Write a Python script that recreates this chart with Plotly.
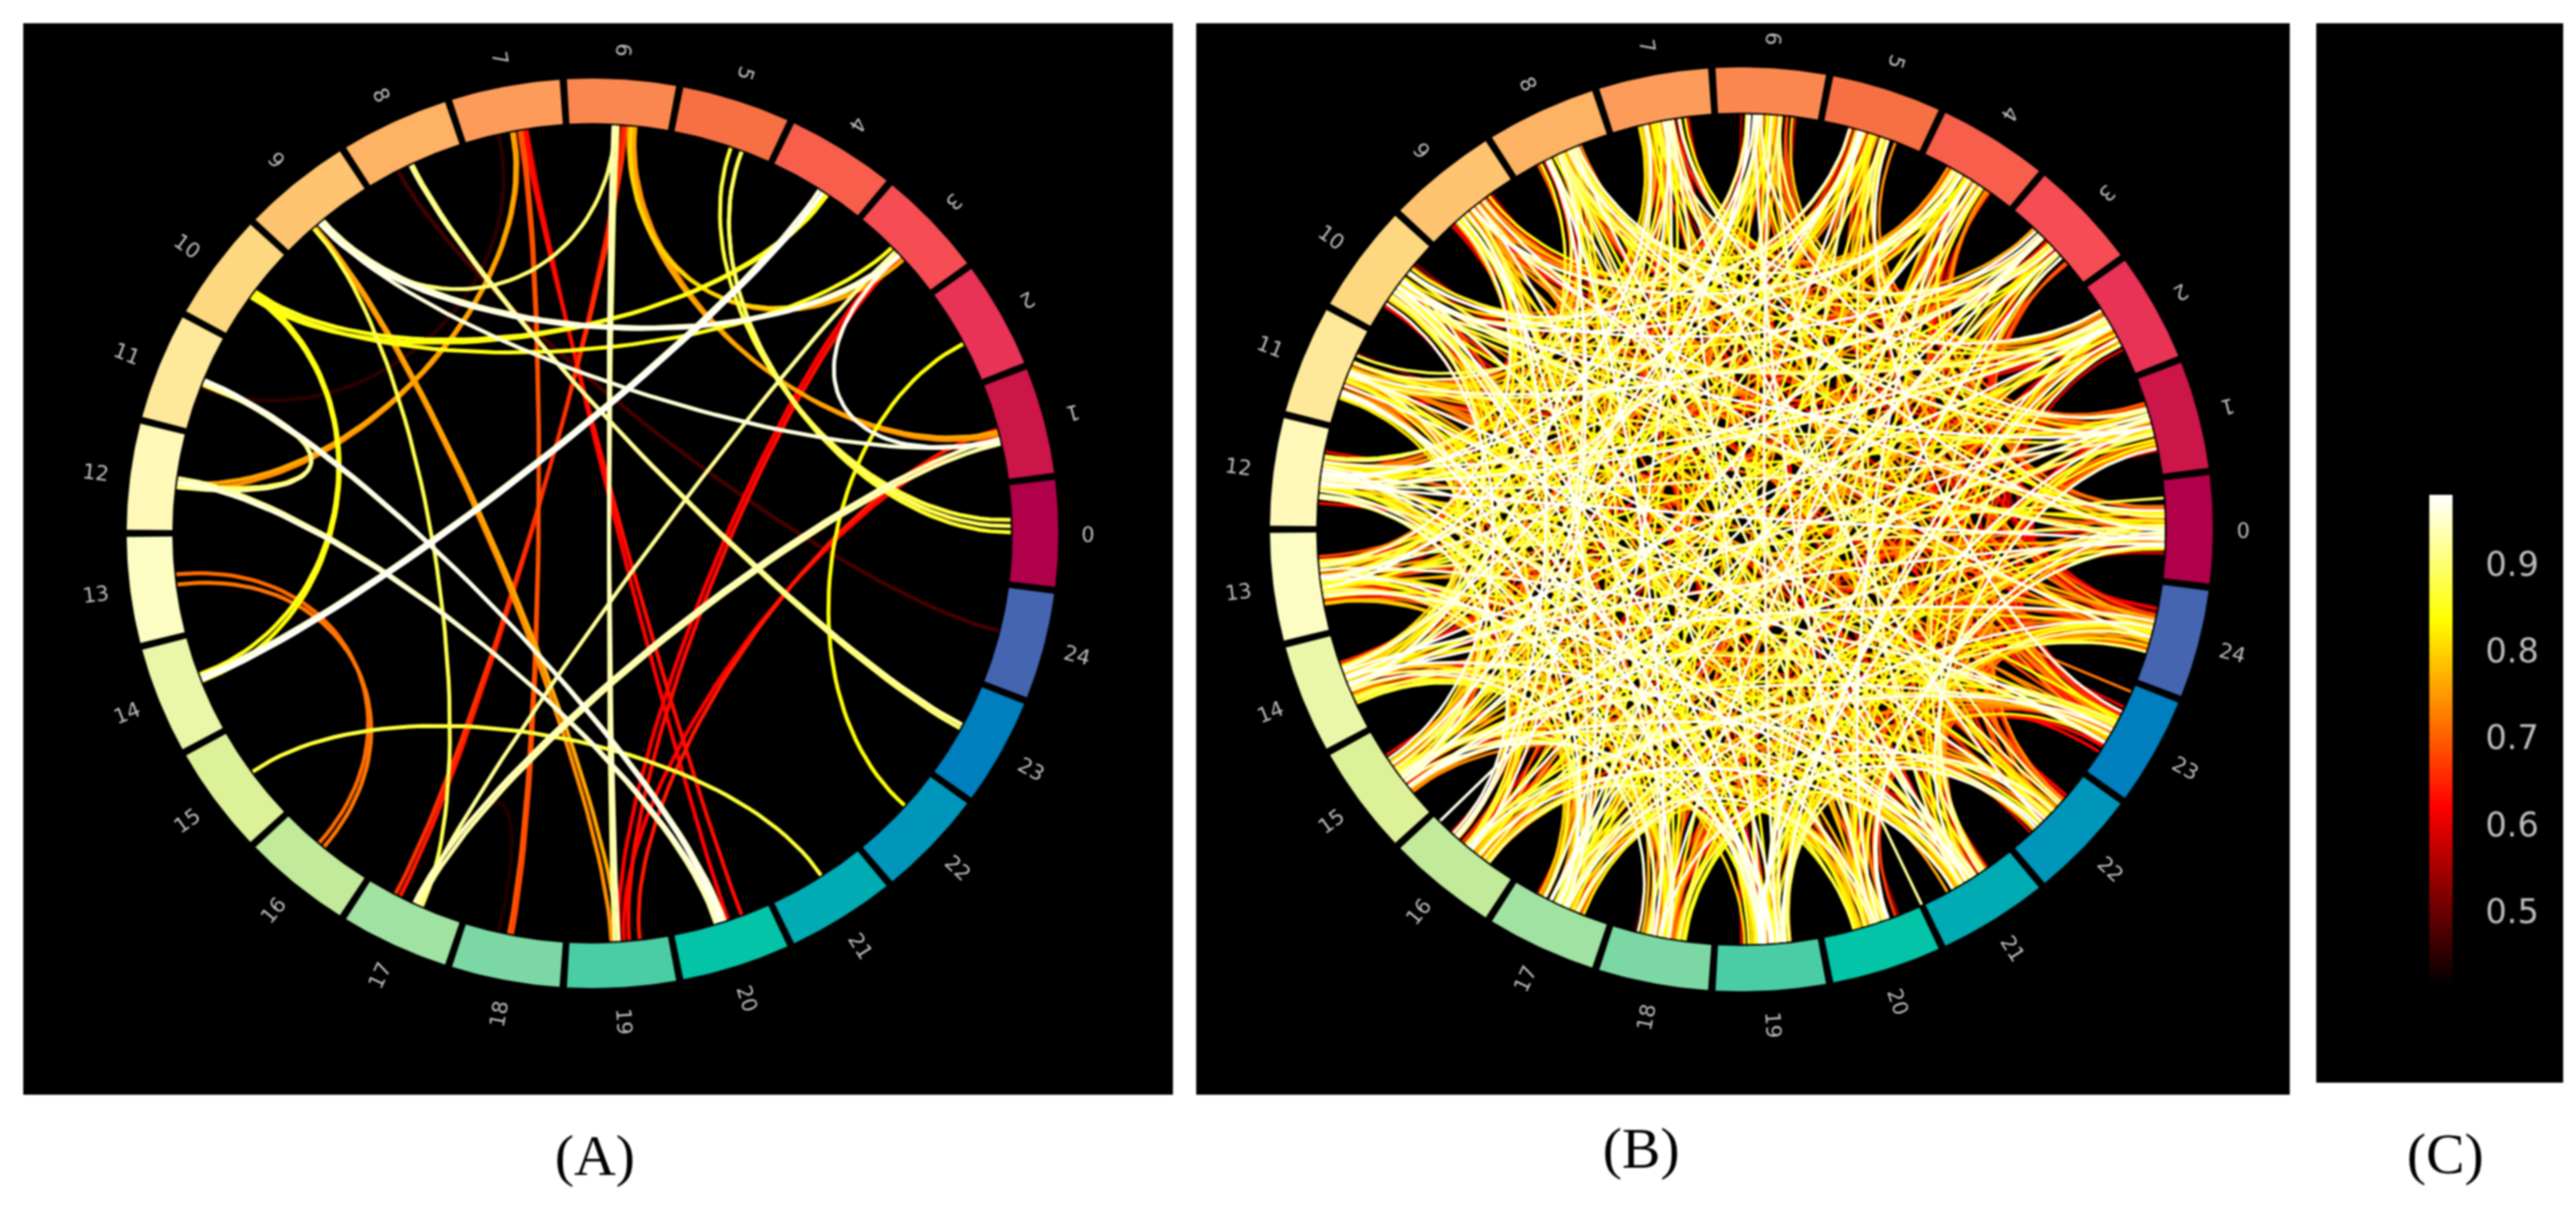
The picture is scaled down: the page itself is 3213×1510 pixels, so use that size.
#!/usr/bin/env python
import numpy as np
import plotly.graph_objects as go
from plotly.colors import sample_colorscale

WIDTH = 3213
HEIGHT = 1510

NODE_NAMES = [str(i) for i in range(25)]
NODE_COLORS = [
    "#B0004A", "#CC1549", "#E83256", "#F54D53", "#F75F4C", "#F77043", "#FB8750", "#FD9C5A", "#FEB264",
    "#FEC470", "#FED880", "#FEE99A", "#FFF8B8", "#FCFDC3", "#EBF7A8", "#DDF298", "#C1EA9A", "#A0E2A2",
    "#7BD8A4", "#4ACDA5", "#03C4A7", "#00ABB4", "#0096BC", "#007FBE", "#4565B1",
]

# colour range
CMIN = 0.414
CMAX = 0.98
COLORBAR_TICKS = [0.5, 0.6, 0.7, 0.8, 0.9]
HOT_SCALE = [[0, "rgb(0,0,0)"], [0.365, "rgb(255,0,0)"], [0.746, "rgb(255,255,0)"], [1, "rgb(255,255,255)"]]

# panel A: one strand per row, (position on ring in node units, position on ring, value)
CHORDS_A = [
    (0.13, 4.91, 0.87), (0.07, 4.80, 0.89), (0.01, 4.80, 0.86),
    (0.92, 2.98, 0.97), (1.00, 5.90, 0.76), (0.97, 5.84, 0.74),
    (0.90, 9.07, 0.96), (2.99, 9.03, 0.95), (2.97, 9.08, 0.97),
    (0.93, 17.00, 0.94), (0.88, 17.05, 0.93), (1.02, 19.20, 0.64), (0.95, 19.05, 0.62),
    (3.00, 19.00, 0.62), (2.95, 19.10, 0.63), (3.03, 17.03, 0.92), (1.92, 22.10, 0.84),
    (23.06, 8.04, 0.92), (23.02, 8.02, 0.90), (24.04, 8.17, 0.47), (21.05, 14.98, 0.87),
    (12.90, 15.92, 0.71), (13.00, 15.98, 0.72), (13.96, 3.93, 0.98), (13.92, 3.97, 0.96),
    (13.97, 10.00, 0.84), (13.90, 10.03, 0.85), (9.98, 3.88, 0.85), (10.05, 3.90, 0.84),
    (10.02, 3.08, 0.85), (5.85, 2.92, 0.76), (5.88, 2.97, 0.80), (6.03, 9.05, 0.90),
    (7.02, 12.00, 0.76), (7.00, 12.05, 0.74), (6.95, 17.98, 0.68), (6.93, 17.95, 0.69),
    (6.88, 20.06, 0.62), (6.91, 20.20, 0.63), (5.96, 16.85, 0.64), (5.93, 16.80, 0.66),
    (6.05, 19.00, 0.94), (6.01, 18.96, 0.92), (9.13, 19.00, 0.76), (9.15, 18.93, 0.74),
    (9.15, 17.08, 0.88), (11.00, 20.03, 0.95), (10.97, 20.00, 0.97), (12.00, 19.97, 0.96),
    (11.96, 19.94, 0.93), (11.02, 12.02, 0.88), (11.00, 12.05, 0.92), (11.05, 7.15, 0.45),
    (17.05, 17.85, 0.44),
]

# panel B: strongest strand for node i to nodes i+1 ... 24, in hundredths, estimated
ROWS_B_STRONG = [
    [55, 62, 70, 85, 92, 68, 97, 88, 75, 95, 83, 98, 90, 72, 96, 86, 93, 66, 88, 97, 78, 65, 58, 60],
    [52, 66, 78, 73, 96, 85, 91, 64, 98, 87, 94, 76, 97, 89, 62, 93, 84, 98, 70, 86, 74, 63, 61],
    [58, 60, 82, 90, 74, 97, 86, 93, 68, 96, 85, 98, 79, 91, 88, 65, 97, 83, 94, 72, 64, 56],
    [54, 63, 79, 95, 87, 72, 98, 91, 84, 96, 67, 93, 97, 76, 89, 98, 82, 90, 70, 66, 60],
    [51, 68, 75, 92, 84, 97, 78, 94, 88, 63, 98, 86, 95, 73, 91, 97, 80, 69, 74, 62],
    [56, 65, 86, 90, 96, 71, 98, 83, 93, 89, 67, 97, 85, 94, 76, 92, 72, 64, 77],
    [53, 72, 66, 94, 88, 97, 81, 92, 98, 74, 90, 86, 96, 69, 93, 78, 84, 68],
    [61, 58, 80, 93, 76, 98, 89, 91, 70, 97, 84, 95, 87, 64, 92, 73, 81],
    [55, 62, 78, 91, 85, 97, 73, 94, 88, 98, 66, 90, 96, 82, 71, 67],
    [59, 67, 83, 96, 90, 74, 98, 87, 93, 97, 79, 85, 92, 68, 75],
    [57, 73, 69, 92, 97, 86, 94, 78, 98, 89, 95, 65, 84, 88],
    [60, 76, 88, 93, 71, 98, 91, 96, 83, 87, 97, 74, 70],
    [62, 74, 86, 97, 90, 95, 98, 77, 92, 85, 94, 80],
    [58, 70, 84, 91, 79, 97, 88, 94, 68, 96, 73],
    [63, 66, 87, 96, 92, 75, 98, 85, 90, 82],
    [56, 72, 89, 97, 84, 93, 77, 95, 69],
    [60, 75, 92, 86, 98, 71, 88, 83],
    [54, 68, 94, 80, 96, 74, 90],
    [64, 78, 88, 97, 70, 85],
    [52, 76, 91, 82, 93],
    [60, 72, 67, 86],
    [58, 70, 71],
    [62, 69],
    [68],
]
# second strand of the same pairs, the weaker orange and yellow layer underneath
ROWS_B_WEAK = [
    [47, 58, 64, 72, 80, 66, 84, 76, 62, 88, 70, 82, 78, 61, 86, 74, 83, 60, 79, 85, 68, 60, 52, 50],
    [45, 60, 70, 66, 82, 74, 80, 59, 86, 76, 83, 68, 84, 79, 58, 82, 72, 85, 63, 75, 64, 57, 54],
    [50, 55, 74, 80, 66, 85, 75, 82, 62, 84, 73, 86, 69, 80, 77, 60, 85, 72, 83, 65, 58, 49],
    [47, 57, 70, 83, 77, 65, 86, 80, 73, 84, 61, 81, 85, 68, 78, 86, 71, 79, 63, 60, 53],
    [44, 60, 67, 81, 74, 85, 69, 82, 77, 58, 86, 75, 84, 66, 80, 85, 70, 62, 66, 55],
    [48, 58, 76, 79, 84, 64, 86, 73, 82, 78, 60, 85, 74, 83, 68, 81, 64, 59, 69],
    [46, 64, 60, 82, 77, 85, 71, 81, 86, 66, 79, 75, 84, 62, 82, 69, 74, 61],
    [53, 52, 71, 81, 68, 86, 78, 80, 63, 85, 73, 83, 76, 58, 81, 65, 72],
    [48, 56, 69, 80, 74, 85, 65, 82, 77, 86, 60, 79, 84, 72, 64, 60],
    [51, 60, 73, 84, 79, 66, 86, 76, 81, 85, 70, 74, 80, 61, 67],
    [50, 65, 62, 80, 85, 75, 82, 69, 86, 78, 83, 59, 73, 77],
    [53, 68, 77, 81, 64, 86, 79, 84, 72, 76, 85, 66, 63],
    [55, 66, 75, 85, 79, 83, 86, 68, 80, 74, 82, 71],
    [51, 63, 73, 79, 69, 85, 77, 82, 61, 84, 65],
    [56, 59, 76, 84, 80, 67, 86, 74, 78, 71],
    [49, 64, 78, 85, 73, 81, 68, 83, 62],
    [53, 67, 80, 75, 86, 64, 77, 72],
    [47, 61, 82, 70, 84, 66, 78],
    [57, 69, 77, 85, 63, 74],
    [46, 67, 79, 72, 81],
    [53, 64, 60, 75],
    [51, 62, 64],
    [55, 62],
    [60],
]
# third strand, near white, node i to these later nodes
WHITE_PARTNERS_B = [
    [9, 14, 20], [8, 15, 21], [12, 19], [11, 17], [9, 18], [13, 23], [14, 20], [15, 22],
    [16, 21], [17, 24], [18], [19, 23], [20], [21], [24], [22], [23], [24],
]
WHITE_VALUE_B = 0.97
# strands that run through the very middle of the ring
CENTER_CHORDS_B = [(3.10, 15.60, 0.97), (8.00, 20.50, 0.92), (0.30, 12.80, 0.88), (10.90, 23.40, 0.72)]
# small hand-set shifts so the ends in a node do not line up
END_SHIFT_1 = [0.06, -0.11, 0.03, 0.13, -0.04, -0.13, 0.09, -0.02, 0.11, -0.08, 0.01, 0.14, -0.12, 0.05, -0.06,
               0.10, -0.14, 0.02, 0.08, -0.09, 0.12, -0.01, -0.05, 0.07, -0.10, 0.04, 0.13, -0.07, -0.03, 0.10, -0.12]
END_SHIFT_2 = [-0.07, 0.12, 0.02, -0.13, 0.08, -0.03, 0.14, -0.10, 0.05, 0.11, -0.01, -0.12, 0.07, -0.05, 0.03,
               0.13, -0.09, 0.00, 0.10, -0.14, 0.06, -0.04, 0.09]

# pixel boxes of the three panels and the ring in them
PANELS = {
    "A": dict(box=(29, 29, 1463, 1365), center=(739, 665), radii=(581, 567), lw=5.0),
    "B": dict(box=(1492, 29, 2856, 1365), center=(2172, 660), radii=(588, 576), lw=3.6),
}
BOX_C = (2889, 29, 3197, 1350)
RING_INNER = 0.902
CHORD_END = 0.898
HALF_WEDGE = 6.75
NODE_STEP = 360 / len(NODE_NAMES)


def polar(pos, r):
    a = np.deg2rad(np.asarray(pos) * NODE_STEP)
    return r * np.cos(a), r * np.sin(a)


def chord_path(pos0, pos1):
    # same shape as a connectivity circle: cubic with the handles pulled in along the radius
    x0, y0 = polar(pos0, CHORD_END)
    x1, y1 = polar(pos1, CHORD_END)
    t = np.linspace(0, 1, 50)
    c = 0.6
    b0, b1, b2, b3 = (1 - t) ** 3, 3 * t * (1 - t) ** 2, 3 * t**2 * (1 - t), t**3
    return (b0 + c * b1) * x0 + (c * b2 + b3) * x1, (b0 + c * b1) * y0 + (c * b2 + b3) * y1


def panel_b_chords():
    # ends fan out inside a node, ordered by who they connect to
    triples = []
    for rows in (ROWS_B_WEAK, ROWS_B_STRONG):
        for i, row in enumerate(rows):
            for k, val in enumerate(row):
                triples.append((i, i + k + 1, val / 100))
    for i, partners in enumerate(WHITE_PARTNERS_B):
        for j in partners:
            triples.append((i, j, WHITE_VALUE_B))
    chords = list(CENTER_CHORDS_B)
    for n, (i, j, val) in enumerate(triples):
        d = j - i
        off = 0.12 * (13 - d) / 12 if d <= 12 else -0.12 * (d - 12) / 12
        s0 = END_SHIFT_1[n % len(END_SHIFT_1)]
        s1 = END_SHIFT_2[n % len(END_SHIFT_2)]
        chords.append((i + off + s0, j - off + s1, val))
    return chords


def hot_color(val):
    t = min(max((val - CMIN) / (CMAX - CMIN), 0), 1)
    return sample_colorscale(HOT_SCALE, [t])[0]


def add_panel(fig, name, chords):
    p = PANELS[name]
    suffix = {"A": "", "B": "2"}[name]
    xa, ya = f"x{suffix}", f"y{suffix}"
    for pos0, pos1, val in sorted(chords, key=lambda c: c[2]):
        x, y = chord_path(pos0, pos1)
        fig.add_trace(go.Scatter(x=x, y=y, xaxis=xa, yaxis=ya, mode="lines", hoverinfo="skip",
                                 line=dict(color=hot_color(val), width=p["lw"])))
    for i, color in enumerate(NODE_COLORS):
        arc = np.linspace(i - HALF_WEDGE / NODE_STEP, i + HALF_WEDGE / NODE_STEP, 20)
        ox, oy = polar(arc, 1.0)
        ix, iy = polar(arc[::-1], RING_INNER)
        fig.add_trace(go.Scatter(x=np.r_[ox, ix, ox[0]], y=np.r_[oy, iy, oy[0]], xaxis=xa, yaxis=ya,
                                 mode="lines", fill="toself", fillcolor=color, hoverinfo="skip",
                                 line=dict(width=0)))
    for i, label in enumerate(NODE_NAMES):
        r = 1.064 if len(label) == 1 else 1.075
        x, y = polar(i, r)
        ang = i * NODE_STEP
        rot = ang if ang >= 270 else ang + 180
        fig.add_annotation(x=float(x), y=float(y), xref=xa, yref=ya, text=label, showarrow=False,
                           textangle=-rot, font=dict(family="DejaVu Sans", size=26, color="#bdbdbd"))


def axis_range(box, center, radii):
    x0, y0, x1, y1 = box
    return dict(
        xdom=[x0 / WIDTH, x1 / WIDTH],
        ydom=[1 - y1 / HEIGHT, 1 - y0 / HEIGHT],
        xr=[(x0 - center[0]) / radii[0], (x1 - center[0]) / radii[0]],
        yr=[(center[1] - y1) / radii[1], (center[1] - y0) / radii[1]],
    )


def hidden(domain, rng=None, **kw):
    return dict(domain=domain, range=rng, visible=False, fixedrange=True, **kw)


fig = go.Figure()
add_panel(fig, "A", CHORDS_A)
add_panel(fig, "B", panel_b_chords())

# panel C only carries the colour bar
fig.add_trace(go.Scatter(
    x=[None, None], y=[None, None], xaxis="x3", yaxis="y3", mode="markers", hoverinfo="skip",
    marker=dict(
        color=[CMIN, CMAX], colorscale=HOT_SCALE, cmin=CMIN, cmax=CMAX, showscale=True,
        colorbar=dict(
            x=3030 / WIDTH, xanchor="left", xpad=0, y=1 - 923 / HEIGHT, yanchor="middle", ypad=0,
            len=612, lenmode="pixels", thickness=29, thicknessmode="pixels", outlinewidth=0,
            tickvals=COLORBAR_TICKS, ticktext=[f"{v:.1f}" for v in COLORBAR_TICKS], ticks="outside",
            ticklen=33, tickcolor="black", tickfont=dict(family="DejaVu Sans", size=42, color="#bcbcbc"),
        ),
    ),
))

ra = axis_range(**{k: PANELS["A"][k] for k in ("box", "center", "radii")})
rb = axis_range(**{k: PANELS["B"][k] for k in ("box", "center", "radii")})
fig.update_layout(
    width=WIDTH, height=HEIGHT, margin=dict(l=0, r=0, t=0, b=0), showlegend=False,
    paper_bgcolor="white", plot_bgcolor="black",
    xaxis=hidden(ra["xdom"], ra["xr"]), yaxis=hidden(ra["ydom"], ra["yr"]),
    xaxis2=hidden(rb["xdom"], rb["xr"]), yaxis2=hidden(rb["ydom"], rb["yr"]),
    xaxis3=hidden([BOX_C[0] / WIDTH, BOX_C[2] / WIDTH], [0, 1]),
    yaxis3=hidden([1 - BOX_C[3] / HEIGHT, 1 - BOX_C[1] / HEIGHT], [0, 1]),
)
for text, px, py in [("(A)", 742, 1441), ("(B)", 2047, 1432), ("(C)", 3050, 1439)]:
    fig.add_annotation(x=px / WIDTH, y=1 - py / HEIGHT, xref="paper", yref="paper", text=text, showarrow=False,
                       xanchor="center", yanchor="middle",
                       font=dict(family="Liberation Serif", size=72, color="black"))

# the page's default body margin would push the figure 8px off; the source image is a soft scan
fig.write_html(
    "out.html",
    config={"displayModeBar": False},
    post_script="document.body.style.margin = '0';"
    "document.querySelector('.js-plotly-plot').style.filter = 'blur(1.2px)';",
)
